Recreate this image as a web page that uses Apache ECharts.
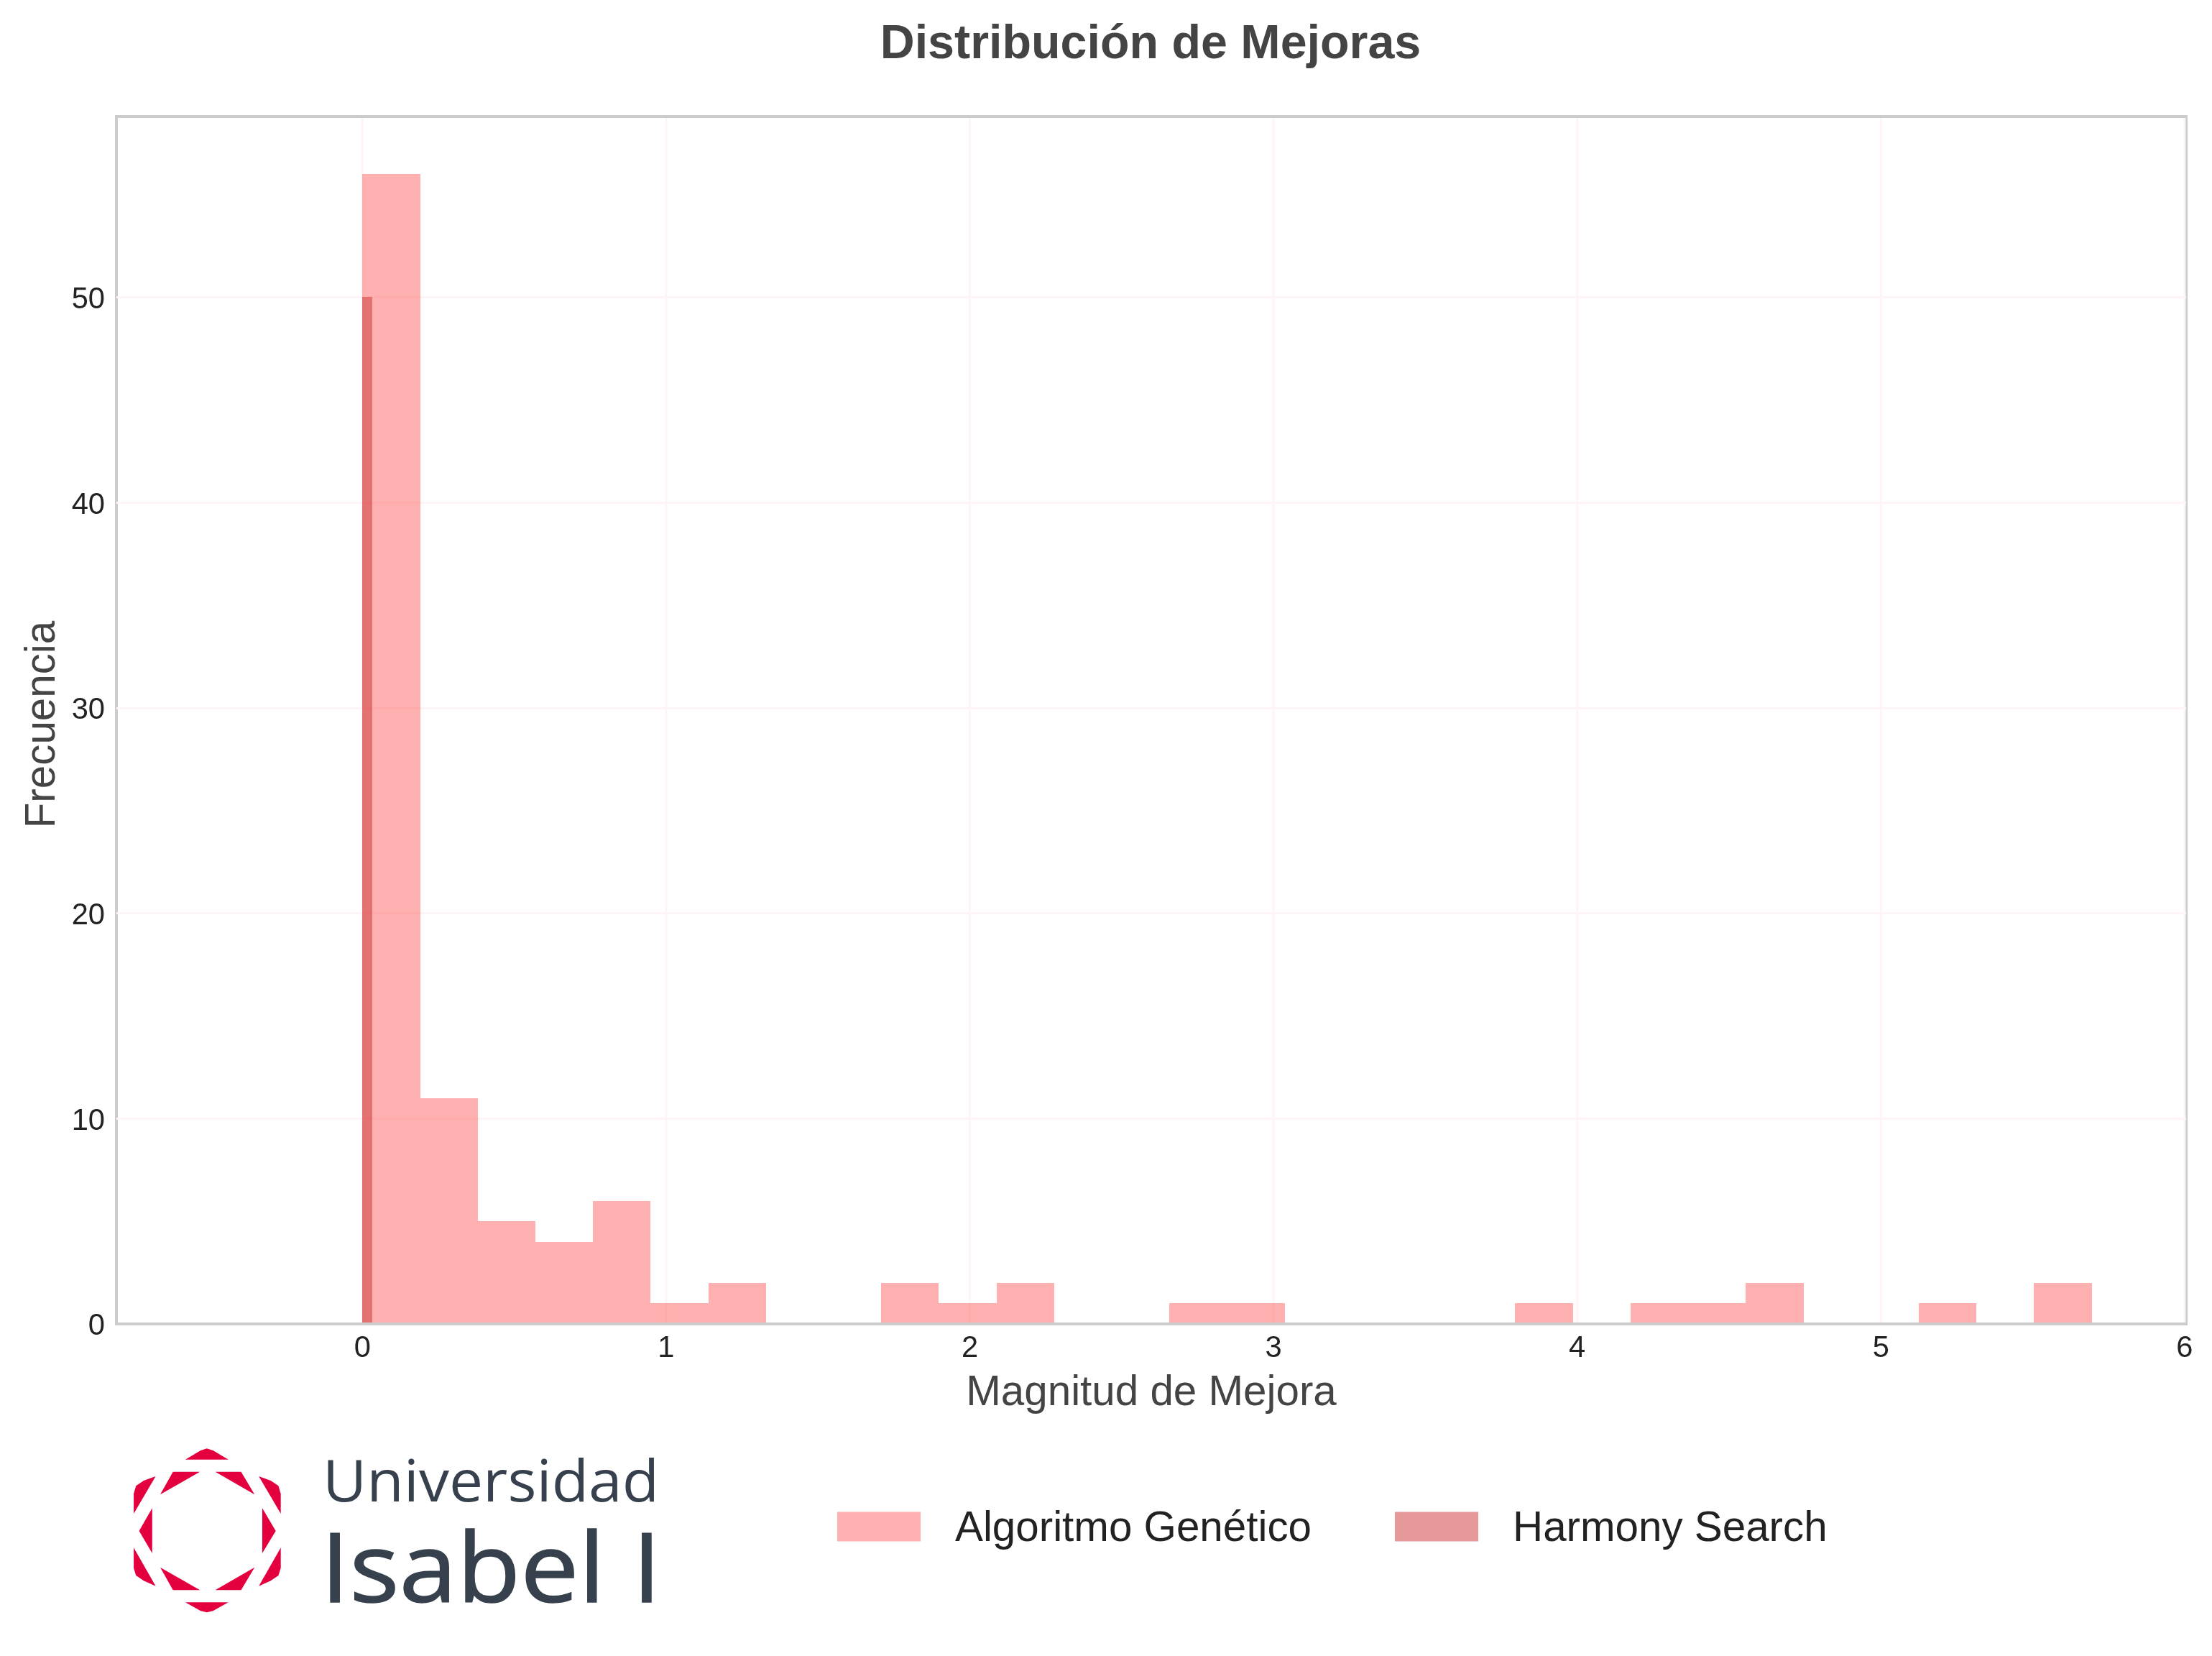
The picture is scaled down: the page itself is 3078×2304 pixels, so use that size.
<!DOCTYPE html>
<html><head><meta charset="utf-8">
<style>html,body{margin:0;padding:0;background:#fff}#c{width:3078px;height:2304px}</style>
<script src="https://cdn.jsdelivr.net/npm/echarts@6/dist/echarts.min.js"></script>
</head><body><div id="c"></div>
<script>
const gaBinEdges = [0,0.19,0.38,0.569,0.759,0.949,1.139,1.329,1.518,1.708,1.898,2.088,2.278,2.467,2.657,2.847,3.037,3.227,3.416,3.606,3.796,3.986,4.176,4.365,4.555,4.745,4.935,5.125,5.314,5.504,5.694];
const gaCounts = [56,11,5,4,6,1,2,0,0,2,1,2,0,0,1,1,0,0,0,0,1,0,1,1,2,0,0,1,0,2];
const hsBinEdges = [0,0.033];
const hsCounts = [50];
const xTicks = [0,1,2,3,4,5,6];
const yTicks = [0,10,20,30,40,50];
const gaName = 'Algoritmo Genético';
const hsName = 'Harmony Search';
const FONT = '"Liberation Sans", Arial, sans-serif';
const gaColor = 'rgba(255,97,97,0.5)';
const hsColor = 'rgba(204,51,51,0.5)';
const gridColor = '#fff4f6';
const xMin = -0.81, xMax = 6.005, yMax = 58.8;

function rows(edges, counts){ return counts.map((c,i)=>[edges[i],edges[i+1],c]); }
function renderBin(params, api){
  const a = api.coord([api.value(0), api.value(2)]);
  const b = api.coord([api.value(1), 0]);
  const x0 = Math.round(a[0]), x1 = Math.round(b[0]), y0 = Math.round(a[1]), y1 = Math.round(b[1]);
  return {type:'rect', shape:{x:x0,y:y0,width:x1-x0,height:y1-y0}, style:{fill:api.visual('color')}};
}
function renderXGrid(params, api){
  const a = api.coord([api.value(0), 0]);
  const b = api.coord([api.value(0), yMax - 0.07]);
  return {type:'line', shape:{x1:a[0],y1:a[1],x2:b[0],y2:b[1]}, style:{stroke:gridColor,lineWidth:3}};
}
function poly(pts){ return {type:'polygon', shape:{points:pts}, style:{fill:'#e4003f'}}; }
const logoPolys = [
 [[220,152],[332,152],[292,114],[276,106],[260,114]],
 [[188,203],[258,203],[155,298]],
 [[298,203],[365,203],[400,298]],
 [[143,222],[86,378],[86,295],[92,262],[112,240]],
 [[411,222],[468,378],[468,295],[462,262],[442,240]],
 [[134,355],[134,543],[100,450]],
 [[420,355],[420,543],[455,450]],
 [[86,520],[143,680],[112,658],[92,636],[86,605]],
 [[468,520],[411,680],[442,658],[462,636],[468,605]],
 [[155,602],[258,697],[188,697]],
 [[400,602],[298,697],[365,697]],
 [[220,748],[332,748],[292,784],[276,790],[260,784]]
];
const chart = echarts.init(document.getElementById('c'));
chart.setOption({
  backgroundColor:'#fff',
  animation:false,
  title:{text:'Distribución de Mejoras',left:1596,top:25,textAlign:'center',
    textStyle:{fontFamily:FONT,fontWeight:'bold',fontSize:66.4,color:'#444444'}},
  grid:{left:162,top:162,width:2880,height:1680,show:true,borderColor:'#cccccc',borderWidth:4,backgroundColor:'#fff',outerBoundsMode:'none'},
  xAxis:{type:'value',min:xMin,max:xMax,interval:1,z:10,
    name:'Magnitud de Mejora',nameLocation:'middle',nameGap:68,
    nameTextStyle:{fontFamily:FONT,fontSize:58.33,color:'#444444'},
    axisLine:{show:true,onZero:false,lineStyle:{color:'#cccccc',width:4}},
    axisTick:{show:false},
    axisLabel:{customValues:xTicks,fontFamily:FONT,fontSize:41.67,color:'#222222',margin:14},
    splitLine:{show:false}
  },
  yAxis:{type:'value',min:0,max:yMax,interval:10,
    name:'Frecuencia',nameLocation:'middle',nameGap:70,nameRotate:90,
    nameTextStyle:{fontFamily:FONT,fontSize:58.33,color:'#444444',padding:[0,12,0,0]},
    axisLine:{show:false},axisTick:{show:false},
    axisLabel:{customValues:yTicks,margin:16,formatter:'{a|{value}}',
      rich:{a:{fontFamily:FONT,fontSize:41.67,color:'#222222',padding:[8,0,0,0]}}},
    splitLine:{show:true,showMinLine:false,showMaxLine:false,lineStyle:{color:gridColor,width:3}}
  },
  legend:{left:1160,top:2094,icon:'rect',itemWidth:116,itemHeight:41,itemGap:116,
    formatter:'{t|{name}}',
    textStyle:{fontFamily:FONT,fontSize:58.33,color:'#222222',
      rich:{t:{fontFamily:FONT,fontSize:58.33,color:'#222222',padding:[8,0,0,43]}}},
    data:[gaName,hsName]},
  series:[
    {type:'custom',name:'xGrid',renderItem:renderXGrid,clip:false,encode:{x:0},data:xTicks.map(v=>[v]),z:1,silent:true},
    {type:'custom',name:gaName,renderItem:renderBin,clip:true,itemStyle:{color:gaColor},
      encode:{x:[0,1],y:2},data:rows(gaBinEdges,gaCounts),z:2},
    {type:'custom',name:hsName,renderItem:renderBin,clip:true,itemStyle:{color:hsColor},
      encode:{x:[0,1],y:2},data:rows(hsBinEdges,hsCounts),z:3}
  ],
  graphic:[
    {type:'group',x:140,y:1980,scaleX:1/1.867,scaleY:1/3,children:logoPolys.map(poly)},
    {type:'text',x:449,y:2066,scaleX:1.05,style:{text:'Universidad',font:'80px "Open Sans"',fill:'#36414d',verticalAlign:'middle',align:'left'}},
    {type:'text',x:446,y:2191,scaleX:1.08,style:{text:'Isabel I',font:'134px "Open Sans"',fill:'#36414d',stroke:'#36414d',lineWidth:1.5,verticalAlign:'middle',align:'left'}}
  ]
});
</script></body></html>
